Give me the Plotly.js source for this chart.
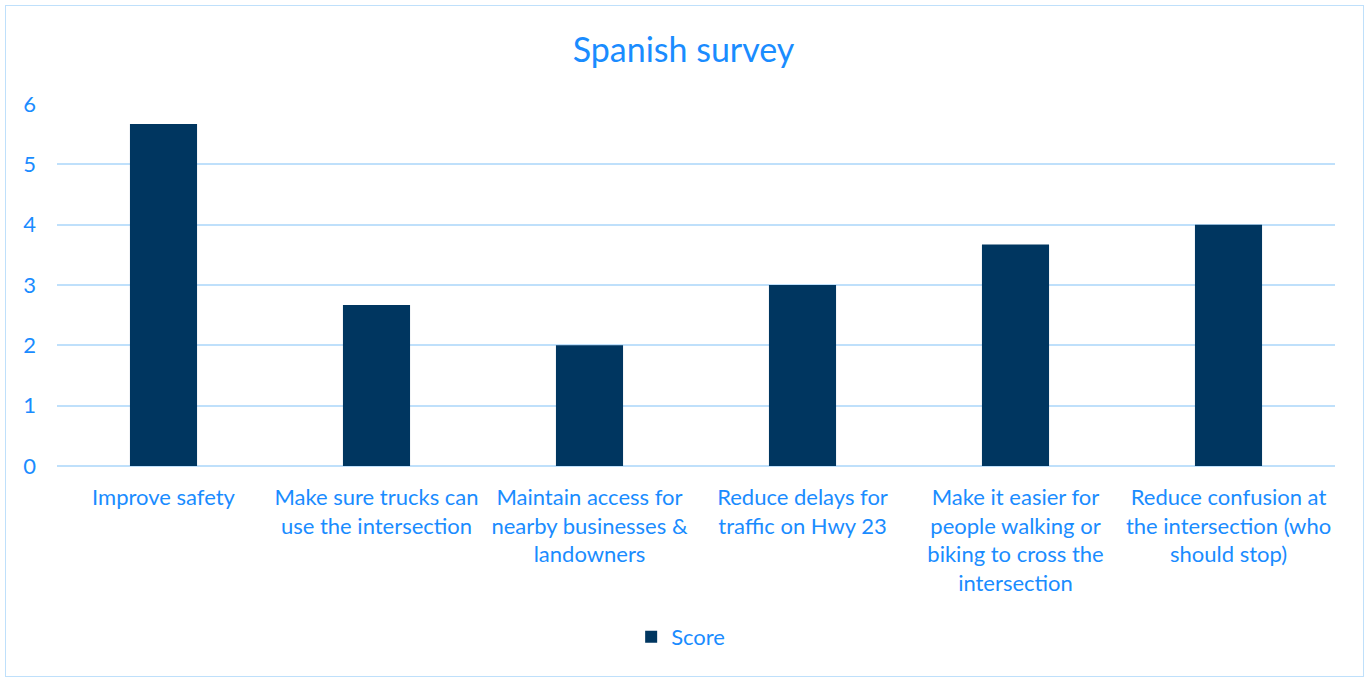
<!DOCTYPE html>
<html>
<head>
<meta charset="utf-8">
<script src="https://cdn.plot.ly/plotly-3.0.1.min.js"></script>
<style>
html,body{margin:0;padding:0;background:#fff;}
#chart{width:1367px;height:677px;}
#frame{position:absolute;left:5px;top:5px;width:1357px;height:670px;border:1px solid #bfe0fb;pointer-events:none;}
</style>
</head>
<body>
<div id="chart"></div>
<div id="frame"></div>
<script>
const categories = [
  "Improve safety",
  "Make sure trucks can<br>use the intersection",
  "Maintain access for<br>nearby businesses &<br>landowners",
  "Reduce delays for<br>traffic on Hwy 23",
  "Make it easier for<br>people walking or<br>biking to cross the<br>intersection",
  "Reduce confusion at<br>the intersection (who<br>should stop)"
];
const scores = [5.67, 2.67, 2.0, 3.0, 3.67, 4.0];
const seriesName = "Score";
const chartTitle = "Spanish survey";

const blue = "#1a8cff";
const font = "Lato, 'Open Sans', sans-serif";

Plotly.newPlot("chart", [{
  type: "bar",
  x: categories,
  y: scores,
  name: seriesName,
  marker: {color: "#003660"},
  showlegend: true
}], {
  width: 1367, height: 677,
  margin: {l: 57, r: 32, t: 104, b: 211},
  paper_bgcolor: "#fff", plot_bgcolor: "#fff",
  font: {family: font, color: blue, size: 22},
  title: {text: chartTitle, font: {family: font, size: 34, color: blue}, x: 0.5, xanchor: "center", y: 1 - 50/677, yanchor: "middle", yref: "container"},
  bargap: 0.685,
  xaxis: {type: "category", tickfont: {size: 22, color: blue}, ticklabelstandoff: 16, showgrid: false, zeroline: false, showline: false, tickangle: 0},
  yaxis: {range: [0, 6], dtick: 1, tickfont: {size: 22, color: blue}, gridcolor: "#bfe0fb", gridwidth: 1.5, zeroline: true, zerolinecolor: "#bfe0fb", zerolinewidth: 1.5, ticklabelstandoff: 20, showline: false},
  showlegend: true,
  legend: {orientation: "h", x: 0.488, xanchor: "center", y: (466-637)/362, yanchor: "middle", font: {size: 22, color: blue}, itemwidth: 30}
}, {displayModeBar: false});
</script>
</body>
</html>
